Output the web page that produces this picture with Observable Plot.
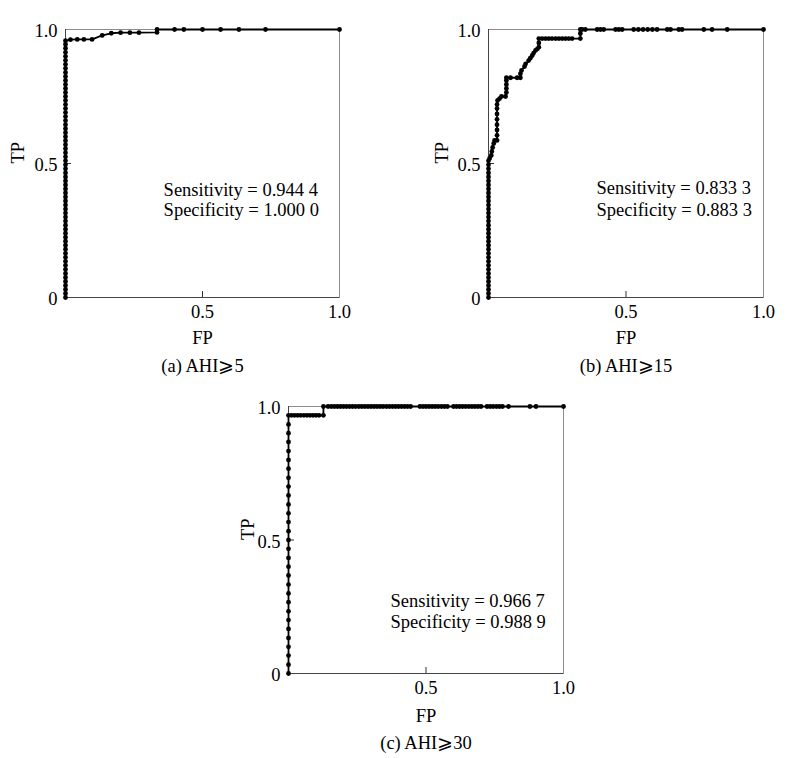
<!DOCTYPE html>
<html><head><meta charset="utf-8">
<script src="https://cdn.jsdelivr.net/npm/d3@7"></script>
<script src="https://cdn.jsdelivr.net/npm/@observablehq/plot@0.6"></script>
<style>
html,body{margin:0;padding:0;background:#fff;}
#wrap{position:relative;width:788px;height:758px;background:#fff;overflow:hidden;}
#wrap > svg, #wrap > figure{position:absolute;margin:0;}
</style></head><body><div id="wrap"></div>
<script>
// ---------- data ----------
const xTicks = [0.5, 1.0];
const yTicks = [0, 0.5, 1.0];

// Panel (a) AHI>=5 : dense rise at FP = 0, then the upper part
const aRiseTP = [0, 0.015, 0.03, 0.045, 0.06, 0.075, 0.09, 0.105, 0.12, 0.135, 0.15, 0.165, 0.18, 0.195, 0.21, 0.225, 0.24, 0.255, 0.27, 0.285, 0.3, 0.315, 0.33, 0.345, 0.36, 0.375, 0.39, 0.405, 0.42, 0.435, 0.45, 0.465, 0.48, 0.495, 0.51, 0.525, 0.54, 0.555, 0.57, 0.585, 0.6, 0.615, 0.63, 0.645, 0.66, 0.675, 0.69, 0.705, 0.72, 0.735, 0.75, 0.765, 0.78, 0.795, 0.81, 0.825, 0.84, 0.855, 0.87, 0.885, 0.9, 0.915, 0.93, 0.945];
const aFP = [0, 0.018, 0.043, 0.067, 0.097, 0.134, 0.167, 0.201, 0.235, 0.268, 0.334, 0.334, 0.398, 0.432, 0.5, 0.566, 0.633, 0.73, 1.0];
const aTP = [0.958, 0.962, 0.963, 0.963, 0.963, 0.978, 0.986, 0.988, 0.988, 0.988, 0.989, 1.0, 1.0, 1.0, 1.0, 1.0, 1.0, 1.0, 1.0];

// Panel (b) AHI>=15
const bRiseTP = [0, 0.015, 0.03, 0.045, 0.06, 0.075, 0.09, 0.105, 0.12, 0.135, 0.15, 0.165, 0.18, 0.195, 0.21, 0.225, 0.24, 0.255, 0.27, 0.285, 0.3, 0.315, 0.33, 0.345, 0.36, 0.375, 0.39, 0.405, 0.42, 0.435, 0.45, 0.465, 0.48, 0.495, 0.51];
const bFP = [0.004, 0.01, 0.012, 0.015, 0.019, 0.022, 0.031, 0.031, 0.031, 0.031, 0.031, 0.031, 0.031, 0.031, 0.033, 0.04, 0.047, 0.062, 0.065, 0.065, 0.065, 0.065, 0.065, 0.08, 0.104, 0.116, 0.116, 0.12, 0.131, 0.135, 0.146, 0.152, 0.159, 0.164, 0.171, 0.178, 0.183, 0.183, 0.183, 0.195, 0.207, 0.219, 0.231, 0.244, 0.256, 0.268, 0.28, 0.292, 0.304, 0.334, 0.334, 0.334, 0.34, 0.352, 0.395, 0.407, 0.419, 0.462, 0.474, 0.486, 0.528, 0.545, 0.562, 0.579, 0.596, 0.613, 0.65, 0.662, 0.692, 0.704, 0.783, 0.813, 0.868, 1.0];
const bTP = [0.519, 0.53, 0.545, 0.56, 0.575, 0.586, 0.586, 0.605, 0.625, 0.645, 0.665, 0.685, 0.705, 0.72, 0.735, 0.742, 0.75, 0.75, 0.765, 0.78, 0.795, 0.81, 0.82, 0.82, 0.82, 0.82, 0.835, 0.847, 0.862, 0.872, 0.884, 0.893, 0.903, 0.912, 0.922, 0.928, 0.934, 0.95, 0.966, 0.966, 0.966, 0.966, 0.966, 0.966, 0.966, 0.966, 0.966, 0.966, 0.966, 0.966, 0.985, 1.0, 1.0, 1.0, 1.0, 1.0, 1.0, 1.0, 1.0, 1.0, 1.0, 1.0, 1.0, 1.0, 1.0, 1.0, 1.0, 1.0, 1.0, 1.0, 1.0, 1.0, 1.0, 1.0];

// Panel (c) AHI>=30
const cRiseTP = [0, 0.033, 0.067, 0.1, 0.133, 0.167, 0.2, 0.233, 0.267, 0.3, 0.333, 0.367, 0.4, 0.433, 0.467, 0.5, 0.533, 0.567, 0.6, 0.633, 0.667, 0.7, 0.733, 0.767, 0.8, 0.833, 0.867, 0.9, 0.933, 0.967];
const cFP = [0.011, 0.022, 0.033, 0.044, 0.056, 0.067, 0.078, 0.089, 0.1, 0.111, 0.127, 0.127, 0.144, 0.156, 0.167, 0.178, 0.189, 0.2, 0.211, 0.222, 0.233, 0.244, 0.256, 0.267, 0.278, 0.289, 0.3, 0.311, 0.322, 0.333, 0.344, 0.356, 0.367, 0.378, 0.389, 0.4, 0.411, 0.422, 0.433, 0.444, 0.478, 0.489, 0.5, 0.511, 0.522, 0.533, 0.544, 0.556, 0.567, 0.578, 0.6, 0.611, 0.622, 0.633, 0.644, 0.656, 0.667, 0.678, 0.689, 0.7, 0.722, 0.733, 0.744, 0.756, 0.767, 0.778, 0.8, 0.878, 0.9, 1.0];
const cTP = [0.967, 0.967, 0.967, 0.967, 0.967, 0.967, 0.967, 0.967, 0.967, 0.967, 0.967, 1.0, 1.0, 1.0, 1.0, 1.0, 1.0, 1.0, 1.0, 1.0, 1.0, 1.0, 1.0, 1.0, 1.0, 1.0, 1.0, 1.0, 1.0, 1.0, 1.0, 1.0, 1.0, 1.0, 1.0, 1.0, 1.0, 1.0, 1.0, 1.0, 1.0, 1.0, 1.0, 1.0, 1.0, 1.0, 1.0, 1.0, 1.0, 1.0, 1.0, 1.0, 1.0, 1.0, 1.0, 1.0, 1.0, 1.0, 1.0, 1.0, 1.0, 1.0, 1.0, 1.0, 1.0, 1.0, 1.0, 1.0, 1.0, 1.0];

const sensitivity = ["0.944 4", "0.833 3", "0.966 7"];
const specificity = ["1.000 0", "0.883 3", "0.988 9"];
const captions = ["(a) AHI\u2A7E5", "(b) AHI\u2A7E15", "(c) AHI\u2A7E30"];

// ---------- build ----------
function toPoints(rise, fp, tp) {
  return rise.map(t => ({fp: 0, tp: t})).concat(fp.map((f, i) => ({fp: f, tp: tp[i]})));
}
const FONT = "'Liberation Serif','Times New Roman',Times,serif";
const FS = 18.5;

function panel(cfg) {
  const {points, sens, spec, caption, W, H, ml, mt, mr, mb, tpDx, fpDy, capDy, annX, annY1, annY2} = cfg;
  const iw = W - ml - mr, ih = H - mt - mb;
  return Plot.plot({
    width: W, height: H,
    marginLeft: ml, marginTop: mt, marginRight: mr, marginBottom: mb,
    x: {domain: [0, 1]},
    y: {domain: [0, 1]},
    style: {fontFamily: FONT, fontSize: FS + "px", background: "transparent", color: "#000", overflow: "visible"},
    marks: [
      Plot.frame({stroke: "#8c8c8c", strokeWidth: 1}),
      Plot.ruleX([0], {stroke: "#444", strokeWidth: 1}),
      Plot.ruleY([0], {stroke: "#444", strokeWidth: 1}),
      Plot.tickX([0.5], {insetTop: ih - 6, stroke: "#333"}),
      Plot.tickY([0.5], {insetRight: iw - 6, stroke: "#333"}),
      Plot.axisX(xTicks, {tickSize: 0, tickPadding: 7, tickFormat: d => d.toFixed(1), label: null, fontSize: FS}),
      Plot.axisY(yTicks, {tickSize: 0, tickPadding: 8, tickFormat: d => d === 0 ? "0" : d.toFixed(1), label: null, dy: 2, fontSize: FS}),
      Plot.text(["FP"], {frameAnchor: "bottom", dy: fpDy, fontSize: FS}),
      Plot.text(["TP"], {frameAnchor: "left", dx: -tpDx, rotate: -90, fontSize: FS}),
      Plot.text([caption], {frameAnchor: "bottom", dy: capDy, fontSize: FS}),
      Plot.line(points, {x: "fp", y: "tp", stroke: "#000", strokeWidth: 1.8}),
      Plot.dot(points, {x: "fp", y: "tp", r: 2.4, fill: "#000"}),
      Plot.text([{x: annX, y: annY1, t: `Sensitivity = ${sens}`}, {x: annX, y: annY2, t: `Specificity = ${spec}`}],
        {x: "x", y: "y", text: "t", textAnchor: "start", lineAnchor: "middle", fontSize: FS})
    ]
  });
}

const wrap = document.getElementById("wrap");
const layouts = [
  {left: 0, top: 0, W: 394, H: 385, ml: 65, mt: 29, mr: 55, mb: 88, tpDx: 47, fpDy: 46, capDy: 74, annX: 0.358, annY1: 0.399, annY2: 0.326},
  {left: 394, top: 0, W: 394, H: 385, ml: 94, mt: 29, mr: 25, mb: 88, tpDx: 46, fpDy: 46, capDy: 74, annX: 0.393, annY1: 0.41, annY2: 0.328},
  {left: 200, top: 385, W: 394, H: 373, ml: 88, mt: 21, mr: 31, mb: 85, tpDx: 40, fpDy: 48, capDy: 75, annX: 0.371, annY1: 0.273, annY2: 0.191}
];
const pts = [toPoints(aRiseTP, aFP, aTP), toPoints(bRiseTP, bFP, bTP), toPoints(cRiseTP, cFP, cTP)];
layouts.forEach((L, i) => {
  const svg = panel({...L, points: pts[i], sens: sensitivity[i], spec: specificity[i], caption: captions[i]});
  svg.style.position = "absolute";
  svg.style.left = L.left + "px";
  svg.style.top = L.top + "px";
  wrap.appendChild(svg);
});
</script></body></html>
